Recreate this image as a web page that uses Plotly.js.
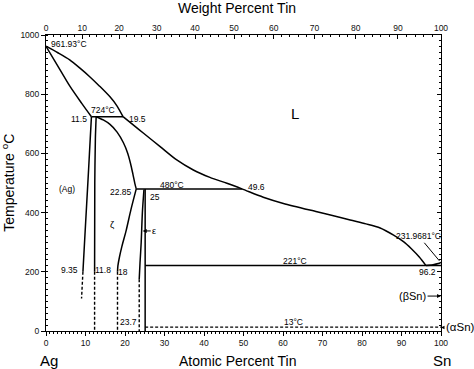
<!DOCTYPE html>
<html>
<head>
<meta charset="utf-8">
<script src="https://cdn.plot.ly/plotly-3.0.1.min.js"></script>
<style>html,body{margin:0;padding:0;background:#fff;}#chart{width:474px;height:369px;}</style>
</head>
<body>
<div id="chart"></div>
<script>
// ---- data (atomic percent Sn, temperature °C) ----
const liqAgX = [0, 3, 6, 8.6, 11, 13.5, 16.2, 18, 19.5];
const liqAgT = [961.93, 940, 916, 888, 860, 828, 791, 760, 724];
const liqMidX = [19.5, 22, 24.7, 28.9, 33.1, 37.3, 41.5, 45.8, 49.6, 55, 60.1, 68.6, 72, 77, 81, 84.6, 88, 90.5, 92.5, 94.5, 96.2];
const liqMidT = [724, 697, 668, 623, 578, 544, 519, 499, 480, 452, 431, 403, 392, 375, 362, 348, 324, 302, 278, 250, 221];
const liqSnX = [96.2, 98, 99.3, 100];
const liqSnT = [221, 224, 228, 231.97];
const solAgX = [0, 3, 6, 9, 11.5];
const solAgT = [961.93, 895, 828, 770, 724];
const solvAgX = [11.5, 11.2, 10.8, 10.3, 9.8, 9.35];
const solvAgT = [724, 650, 550, 430, 310, 200];
const solvAgDashX = [9.35, 9.0];
const solvAgDashT = [200, 110];
const zetaLeftX = [12.7, 12.5, 12.35, 12.3];
const zetaLeftT = [724, 650, 500, 200];
const zetaLeftDashX = [12.3, 12.3];
const zetaLeftDashT = [200, 0];
const zetaUpX = [12.7, 14.5, 16.2, 18, 19.6, 20.7, 21.4, 22, 22.5, 22.85];
const zetaUpT = [724, 713, 698, 672, 636, 600, 566, 530, 498, 480];
const zetaLowX = [22.85, 21.5, 20.3, 19.2, 18.6, 18.2, 18.1];
const zetaLowT = [480, 410, 340, 285, 250, 220, 200];
const zetaLowDashX = [18.1, 18.1];
const zetaLowDashT = [200, 0];
const epsLeftX = [24.8, 24.4, 24.1, 23.8, 23.6];
const epsLeftT = [478, 400, 300, 230, 175];
const epsLeftDashX = [23.6, 23.6];
const epsLeftDashT = [175, 0];
const epsRightX = [25.1, 25.1];
const epsRightT = [480, 0];
const peri724X = [11.5, 19.5];
const peri724T = [724, 724];
const peri480X = [22.85, 49.6];
const peri480T = [480, 480];
const eut221X = [25.1, 100];
const eut221T = [221, 221];
const trans13X = [25.1, 100];
const trans13T = [13, 13];

// tick labels
const atTicks = [0, 10, 20, 30, 40, 50, 60, 70, 80, 90, 100];
const tempTicks = [0, 200, 400, 600, 800, 1000];
const wtTicks = [0, 10, 20, 30, 40, 50, 60, 70, 80, 90, 100];
const wtMinor = [2,4,6,8,12,14,16,18,22,24,26,28,32,34,36,38,42,44,46,48,52,54,56,58,62,64,66,68,72,74,76,78,82,84,86,88,92,94,96,98];

// weight % Sn -> atomic % Sn (axis conversion)
const M_SN = 118.71, M_AG = 107.87;
function wtToAt(w) {
  if (w <= 0) return 0;
  if (w >= 100) return 100;
  const a = w / M_SN, b = (100 - w) / M_AG;
  return 100 * a / (a + b);
}

const FONT = 'Arial, "Liberation Sans", Helvetica, sans-serif';
const LS = 8.5; // small label size
const solid = {color: '#000', width: 1.5};
const dashed = {color: '#000', width: 1.4, dash: '3px,2px'};

function line(x, y, style, spline) {
  return {x: x, y: y, type: 'scatter', mode: 'lines', line: Object.assign({}, style, spline ? {shape: 'spline', smoothing: 0.8} : {}),
          hoverinfo: 'skip', showlegend: false, cliponaxis: false};
}

const traces = [
  line(liqAgX, liqAgT, solid, true),
  line(liqMidX, liqMidT, solid, true),
  line(liqSnX, liqSnT, solid, true),
  line(solAgX, solAgT, solid, true),
  line(solvAgX, solvAgT, solid, true),
  line(solvAgDashX, solvAgDashT, dashed, false),
  line(zetaLeftX, zetaLeftT, solid, true),
  line(zetaLeftDashX, zetaLeftDashT, dashed, false),
  line(zetaUpX, zetaUpT, solid, true),
  line(zetaLowX, zetaLowT, solid, true),
  line(zetaLowDashX, zetaLowDashT, dashed, false),
  line(epsLeftX, epsLeftT, solid, true),
  line(epsLeftDashX, epsLeftDashT, dashed, false),
  line(epsRightX, epsRightT, solid, false),
  line(peri724X, peri724T, solid, false),
  line(peri480X, peri480T, solid, false),
  line(eut221X, eut221T, solid, false),
  line(trans13X, trans13T, dashed, false),
  // invisible helpers so the top and right axes are drawn
  {x: [0, 100], y: [0, 0], xaxis: 'x2', yaxis: 'y', type: 'scatter', mode: 'lines', line: {width: 0}, opacity: 0, hoverinfo: 'skip', showlegend: false},
  {x: [0, 100], y: [0, 0], xaxis: 'x', yaxis: 'y2', type: 'scatter', mode: 'lines', line: {width: 0}, opacity: 0, hoverinfo: 'skip', showlegend: false}
];

function lab(text, x, y, xanchor, size) {
  return {text: text, x: x, y: y, xref: 'x', yref: 'y', showarrow: false, xanchor: xanchor || 'center', yanchor: 'middle',
          font: {family: FONT, size: size || LS, color: '#000'}};
}
function arrowLab(text, x, y, ax, ay, head, size) {
  return {text: text, x: x, y: y, ax: ax, ay: ay, xref: 'x', yref: 'y', axref: 'x', ayref: 'y', showarrow: true,
          arrowhead: head, arrowsize: 0.8, arrowwidth: 1, arrowcolor: '#000', standoff: 0, startstandoff: 0,
          font: {family: FONT, size: size || LS, color: '#000'}};
}
function paperLab(text, x, y, size, angle) {
  return {text: text, x: x, y: y, xref: 'paper', yref: 'paper', showarrow: false, xanchor: 'center', yanchor: 'middle',
          textangle: angle || 0, font: {family: FONT, size: size, color: '#000'}};
}

const annotations = [
  lab('961.93°C', 0.7, 971, 'left'),
  lab('724°C', 14.5, 747),
  lab('11.5', 10.9, 716, 'right'),
  lab('19.5', 20.6, 716, 'left'),
  lab('480°C', 31.8, 494),
  lab('22.85', 22.4, 470, 'right'),
  lab('25', 25.9, 454, 'left'),
  lab('49.6', 50.6, 488, 'left'),
  lab('(Ag)', 5.2, 479),
  lab('ζ', 16.9, 361, 'center', 9.5),
  lab('9.35', 8.6, 207, 'right'),
  lab('11.8', 14.4, 207),
  lab('18', 19.5, 200),
  lab('23.7', 20.9, 29),
  lab('221°C', 63, 235),
  lab('13°C', 62.7, 29),
  lab('96.2', 96.5, 199),
  lab('L', 63, 735, 'center', 15),
  arrowLab('ε', 24.5, 338, 27.4, 338, 2, 9),
  arrowLab('231.9681°C', 99.6, 237, 94.4, 320, 0),
  arrowLab('(βSn)', 100, 118, 92.8, 118, 2, 11),
  {text: '(αSn)', x: 100, y: 12, ax: 19, ay: 0, xref: 'x', yref: 'y', showarrow: true, arrowhead: 2, arrowsize: 0.7,
   arrowwidth: 1, arrowcolor: '#000', standoff: 0, font: {family: FONT, size: 11.5, color: '#000'}},
  paperLab('Weight Percent Tin', 0.484, 1.092, 14),
  paperLab('Atomic Percent Tin', 0.486, -0.1, 14),
  paperLab('Ag', 0.008, -0.1, 15),
  paperLab('Sn', 1.003, -0.1, 15),
  paperLab('Temperature <sup>o</sup>C', -0.097, 0.5, 14, -90)
];

const tickFont = {family: FONT, size: 8.5, color: '#111'};
const layout = {
  width: 474, height: 369,
  margin: {l: 46, r: 33, t: 35, b: 38, pad: 0},
  paper_bgcolor: '#fff', plot_bgcolor: '#fff',
  showlegend: false,
  xaxis: {range: [0, 100], tickmode: 'array', tickvals: atTicks, ticktext: atTicks.map(String),
          showgrid: false, zeroline: false, showline: true, linecolor: '#000', linewidth: 1,
          ticks: 'outside', ticklen: 4, tickcolor: '#000', tickfont: tickFont,
          minor: {dtick: 1, ticks: 'outside', ticklen: 2, tickcolor: '#000', showgrid: false}},
  xaxis2: {range: [0, 100], overlaying: 'x', side: 'top', anchor: 'y', tickmode: 'array',
           tickvals: wtTicks.map(wtToAt), ticktext: wtTicks.map(String),
           showgrid: false, zeroline: false, showline: true, linecolor: '#000', linewidth: 1,
           ticks: 'inside', ticklen: 4, tickcolor: '#000', tickfont: tickFont,
           minor: {tickmode: 'array', tickvals: wtMinor.map(wtToAt), ticks: 'inside', ticklen: 2, tickcolor: '#000', showgrid: false}},
  yaxis: {range: [0, 1000], tickmode: 'array', tickvals: tempTicks, ticktext: tempTicks.map(String),
          showgrid: false, zeroline: false, showline: true, linecolor: '#000', linewidth: 1,
          ticks: 'outside', ticklen: 4, tickcolor: '#000', tickfont: tickFont,
          minor: {dtick: 20, ticks: 'inside', ticklen: 2, tickcolor: '#000', showgrid: false}},
  yaxis2: {range: [0, 1000], overlaying: 'y', side: 'right', anchor: 'x', showticklabels: false,
           dtick: 200, showgrid: false, zeroline: false, showline: true, linecolor: '#000', linewidth: 1,
           ticks: 'inside', ticklen: 4, tickcolor: '#000',
           minor: {dtick: 20, ticks: 'inside', ticklen: 2, tickcolor: '#000', showgrid: false}},
  annotations: annotations
};

Plotly.newPlot('chart', traces, layout, {staticPlot: true, displayModeBar: false});
</script>
</body>
</html>
